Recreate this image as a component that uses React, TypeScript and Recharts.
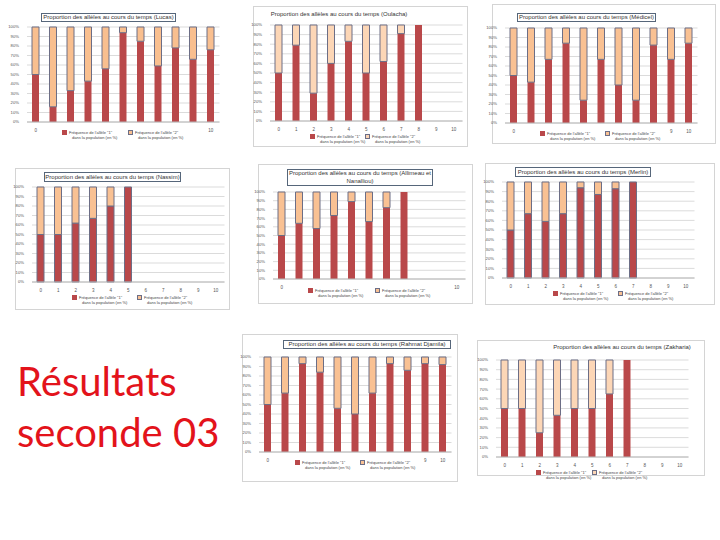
import React from 'react';
import { BarChart, Bar, XAxis, YAxis, CartesianGrid } from 'recharts';

const CATEGORIES = ['0', '1', '2', '3', '4', '5', '6', '7', '8', '9', '10'];
const Y_TICKS = [0, 10, 20, 30, 40, 50, 60, 70, 80, 90, 100];

const ALLELE1_LUCAS = [50, 16, 33, 43, 56, 94, 85, 59, 78, 66, 76];
const ALLELE1_OULACHA = [50, 79, 29, 60, 83, 50, 62, 91, 100];
const ALLELE1_MEDICEL = [50, 43, 67, 84, 24, 67, 40, 24, 82, 67, 84];
const ALLELE1_NASSIM = [50, 50, 62, 67, 80, 100];
const ALLELE1_ALLIMEAU = [50, 64, 58, 73, 89, 66, 82, 100];
const ALLELE1_MERLIN = [50, 67, 59, 67, 94, 87, 93, 100];
const ALLELE1_RAHMAT = [50, 62, 93, 84, 46, 40, 62, 93, 86, 93, 92];
const ALLELE1_ZAKHARIA = [50, 50, 25, 43, 50, 50, 65, 100];

const LEGEND_1 = ['Fréquence de l\u2019allèle "1"', 'dans la population (en %)'];
const LEGEND_2 = ['Fréquence de l\u2019allèle "2"', 'dans la population (en %)'];

const RED = '#b9484a';
const OUTLINE = '#6c6e86';
const FONT = '"Liberation Sans", Arial, sans-serif';

function buildRows(values: number[]) {
  return CATEGORIES.map((c, i) => {
    const v = values[i];
    return {
      cat: c,
      a1: v === undefined ? null : v,
      a2: v === undefined ? null : 100 - v,
    };
  });
}

type Cfg = {
  frame?: [number, number, number, number];
  plot: [number, number, number];
  title: string[];
  titleBox: [number, number, number, number];
  boxed: boolean;
  values: number[];
  ticks: string[];
  legendY: number;
  legendX: [number, number];
  peach: string;
  redStroke: boolean;
};

const PANELS: Cfg[] = [
  {
    plot: [26.75, 27, 95],
    title: ['Proportion des allèles au cours du temps (Lucas)'],
    titleBox: [41, 13, 135, 9],
    boxed: true,
    values: ALLELE1_LUCAS,
    ticks: ['0', '10'],
    legendY: 130,
    legendX: [62, 128],
    peach: '#f9bf8f',
    redStroke: false,
  },
  {
    frame: [253, 6, 215, 141],
    plot: [270.25, 25, 96],
    title: ['Proportion des allèles au cours du temps (Oulacha)'],
    titleBox: [266, 11, 146, 9],
    boxed: false,
    values: ALLELE1_OULACHA,
    ticks: CATEGORIES,
    legendY: 134,
    legendX: [310, 365],
    peach: '#fcd6b6',
    redStroke: false,
  },
  {
    frame: [492, 4, 224, 140],
    plot: [505.25, 28, 95],
    title: ['Proportion des allèles au cours du temps (Médicel)'],
    titleBox: [517, 13, 139, 9],
    boxed: true,
    values: ALLELE1_MEDICEL,
    ticks: ['0', '9', '10'],
    legendY: 131,
    legendX: [540, 605],
    peach: '#f9c193',
    redStroke: false,
  },
  {
    frame: [15, 168, 215, 142],
    plot: [32.25, 187, 95],
    title: ['Proportion des allèles au cours du temps (Nassim)'],
    titleBox: [44, 172, 137, 10],
    boxed: true,
    values: ALLELE1_NASSIM,
    ticks: CATEGORIES,
    legendY: 295,
    legendX: [72, 137],
    peach: '#f9c193',
    redStroke: true,
  },
  {
    frame: [258, 164, 215, 140],
    plot: [273.25, 192, 87],
    title: ['Proportion des allèles au cours du temps (Allimeau et', 'Nanalliou)'],
    titleBox: [287, 169, 146, 17],
    boxed: true,
    values: ALLELE1_ALLIMEAU,
    ticks: ['0', '10'],
    legendY: 288,
    legendX: [308, 375],
    peach: '#f9c193',
    redStroke: false,
  },
  {
    frame: [485, 163, 230, 142],
    plot: [502.25, 182, 96],
    title: ['Proportion des allèles au cours du temps (Merlin)'],
    titleBox: [515, 167, 136, 10],
    boxed: true,
    values: ALLELE1_MERLIN,
    ticks: CATEGORIES,
    legendY: 291,
    legendX: [553, 618],
    peach: '#f9c193',
    redStroke: true,
  },
  {
    frame: [242, 334, 216, 148],
    plot: [259.25, 357, 95],
    title: ['Proportion des allèles au cours du temps (Rahmat Djamila)'],
    titleBox: [283, 340, 168, 9],
    boxed: true,
    values: ALLELE1_RAHMAT,
    ticks: ['0', '9', '10'],
    legendY: 460,
    legendX: [295, 360],
    peach: '#f9c193',
    redStroke: false,
  },
  {
    frame: [477, 340, 228, 136],
    plot: [496.25, 360, 97],
    title: ['Proportion des allèles au cours du temps (Zakharia)'],
    titleBox: [551, 344, 142, 9],
    boxed: false,
    values: ALLELE1_ZAKHARIA,
    ticks: CATEGORIES,
    legendY: 470,
    legendX: [536, 592],
    peach: '#fcd6b6',
    redStroke: false,
  },
];

const PLOT_W = 192.5;
const ML = 30;
const MT = 4;
const MB = 12;
const MR = 4;
const YW = 22;
const XH = 10;

function LegendItem({ x, y, fill, stroke, lines }: { x: number; y: number; fill: string; stroke: string; lines: string[] }) {
  return (
    <div style={{ position: 'absolute', left: x, top: y, fontFamily: FONT, fontSize: 4, lineHeight: '5px', color: '#444', whiteSpace: 'nowrap' }}>
      <span style={{ display: 'inline-block', width: 3, height: 3, background: fill, border: `0.5px solid ${stroke}`, marginRight: 2, verticalAlign: 'middle' }} />
      <span>{lines[0]}</span>
      <div style={{ paddingLeft: 10 }}>{lines[1]}</div>
    </div>
  );
}

function Panel({ cfg }: { cfg: Cfg }) {
  const [px, py, ph] = cfg.plot;
  const rows = buildRows(cfg.values);
  const left = px - ML;
  const top = py - MT;
  const width = PLOT_W + ML + MR;
  const height = ph + MT + MB;
  const [tx, ty, tw, th] = cfg.titleBox;
  return (
    <>
      {cfg.frame && (
        <div
          style={{
            position: 'absolute',
            left: cfg.frame[0],
            top: cfg.frame[1],
            width: cfg.frame[2],
            height: cfg.frame[3],
            border: '1px solid #d4d4d4',
            background: '#ffffff',
            boxSizing: 'border-box',
          }}
        />
      )}
      <div
        style={{
          position: 'absolute',
          left: tx,
          top: ty,
          width: tw,
          height: th,
          border: cfg.boxed ? '1px solid #56667a' : 'none',
          boxSizing: 'border-box',
          fontFamily: FONT,
          fontSize: 6,
          lineHeight: cfg.title.length > 1 ? '7.5px' : `${th - 2}px`,
          color: '#333',
          textAlign: 'center',
          whiteSpace: 'nowrap',
          overflow: 'hidden',
        }}
      >
        {cfg.title.map((t, i) => (
          <div key={i}>{t}</div>
        ))}
      </div>
      <div style={{ position: 'absolute', left, top }}>
        <BarChart
          width={width}
          height={height}
          data={rows}
          margin={{ top: MT, right: MR, left: ML - YW, bottom: MB - XH }}
          barSize={7}
        >
          <CartesianGrid horizontal={true} vertical={false} stroke="#d2d2d2" strokeWidth={0.8} />
          <XAxis
            dataKey="cat"
            height={XH}
            tickLine={false}
            axisLine={{ stroke: '#b8b8b8' }}
            interval={0}
            tickMargin={1}
            tick={{ fontSize: 4.5, fill: '#555', fontFamily: FONT }}
            tickFormatter={(v: string) => (cfg.ticks.includes(v) ? v : '')}
          />
          <YAxis
            width={YW}
            domain={[0, 100]}
            ticks={Y_TICKS}
            interval={0}
            tickLine={false}
            axisLine={false}
            tickMargin={2}
            tick={{ fontSize: 4.2, fill: '#555', fontFamily: FONT }}
            tickFormatter={(v: number) => `${v}%`}
          />
          <Bar dataKey="a1" stackId="s" fill={RED} stroke={cfg.redStroke ? OUTLINE : 'none'} strokeWidth={1} isAnimationActive={false} />
          <Bar dataKey="a2" stackId="s" fill={cfg.peach} stroke={OUTLINE} strokeWidth={1} isAnimationActive={false} />
        </BarChart>
      </div>
      <LegendItem x={cfg.legendX[0]} y={cfg.legendY} fill={RED} stroke={RED} lines={LEGEND_1} />
      <LegendItem x={cfg.legendX[1]} y={cfg.legendY} fill={cfg.peach} stroke={OUTLINE} lines={LEGEND_2} />
    </>
  );
}

export default function App() {
  return (
    <div style={{ position: 'absolute', left: 0, top: 0, width: 720, height: 540, background: '#ffffff', overflow: 'hidden' }}>
      {PANELS.map((p, i) => (
        <Panel key={i} cfg={p} />
      ))}
      <div
        style={{
          position: 'absolute',
          left: 17,
          top: 356,
          fontFamily: 'Lato, "Open Sans", sans-serif',
          fontSize: 40,
          lineHeight: '51px',
          color: '#e3131b',
        }}
      >
        <div>Résultats</div>
        <div>seconde 03</div>
      </div>
    </div>
  );
}
